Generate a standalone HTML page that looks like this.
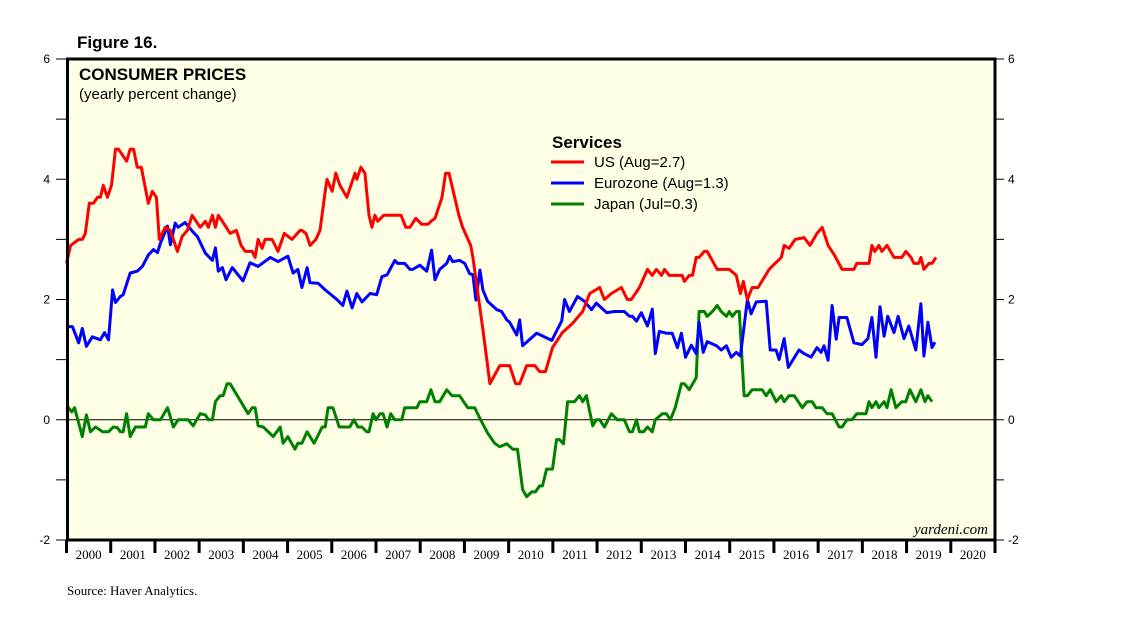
<!DOCTYPE html>
<html><head><meta charset="utf-8"><style>
body{margin:0;background:#fff;}
svg{display:block;}
</style></head><body>
<svg id="chart" width="1138" height="623" viewBox="0 0 1138 623" xmlns="http://www.w3.org/2000/svg">
<text x="77" y="48" font-family="Liberation Sans, sans-serif" font-weight="bold" font-size="17">Figure 16.</text>
<rect x="67.5" y="59" width="927.5" height="481" fill="#ffffe6"/>
<g id="grid"></g>
<g id="series"></g>
<rect x="67.5" y="59" width="927.5" height="481" fill="none" stroke="#000" stroke-width="3"/>
<g id="axes"></g>
<text x="79" y="80" font-family="Liberation Sans, sans-serif" font-weight="bold" font-size="17">CONSUMER PRICES</text>
<text x="79" y="99" font-family="Liberation Sans, sans-serif" font-size="15">(yearly percent change)</text>
<g>
<text x="552" y="148" font-family="Liberation Sans, sans-serif" font-weight="bold" font-size="17">Services</text>
<g><line x1="551" y1="162" x2="584" y2="162" stroke="#ff0000" stroke-width="3"/><text x="594" y="167" font-family="Liberation Sans, sans-serif" font-size="15">US (Aug=2.7)</text></g>
<g><line x1="551" y1="183" x2="584" y2="183" stroke="#0000ff" stroke-width="3"/><text x="594" y="188" font-family="Liberation Sans, sans-serif" font-size="15">Eurozone (Aug=1.3)</text></g>
<g><line x1="551" y1="204" x2="584" y2="204" stroke="#008000" stroke-width="3"/><text x="594" y="209" font-family="Liberation Sans, sans-serif" font-size="15">Japan (Jul=0.3)</text></g>
</g>
<text x="988" y="534" text-anchor="end" font-family="Liberation Serif, serif" font-style="italic" font-size="15">yardeni.com</text>
<text x="67" y="595" font-family="Liberation Serif, serif" font-size="13">Source: Haver Analytics.</text>
</svg>
<script>
const yTicks=[-2,-1,0,1,2,3,4,5,6];
const yLabels=["-2","","0","","2","","4","","6"];
const years=["2000","2001","2002","2003","2004","2005","2006","2007","2008","2009","2010","2011","2012","2013","2014","2015","2016","2017","2018","2019","2020"];
const usMonths=[0,1.1,3.3,4.3,5.1,6.2,7.3,8.4,9.2,10.0,11.1,12.2,13.3,14.1,16.3,17.3,18.2,19.2,20.3,22.2,23.3,24.4,25.2,26.8,28.2,30.1,31.4,32.8,34.1,36.3,37.7,38.5,39.6,40.4,41.2,42.3,44.4,46.1,47.4,48.5,50.4,51.2,52.0,53.1,53.9,55.8,57.4,59.1,61.2,63.4,63.9,65.0,66.1,67.7,68.8,70.2,70.7,72.1,73.1,74.2,76.1,78.3,78.8,79.9,81.0,82.1,82.9,83.7,84.5,86.1,90.8,92.1,93.2,94.8,96.4,98.1,98.9,100.0,101.9,102.9,103.8,106.5,107.5,109.7,110.3,113.0,114.9,117.6,120.3,121.9,123.0,124.9,127.1,128.4,130.0,131.9,134.6,137.3,140.1,142.0,144.7,146.0,147.9,150.6,152.2,153.3,154.4,155.5,157.7,159.0,160.1,161.5,162.3,163.6,167.1,167.7,169.0,169.9,170.9,171.7,173.1,173.9,176.6,179.9,181.8,182.9,183.7,184.8,186.1,187.7,190.7,192.3,194.0,194.8,196.1,197.8,200.2,201.8,203.7,205.1,206.7,208.3,210.5,213.7,214.5,217.8,218.6,219.4,220.5,221.3,222.7,224.6,226.7,227.8,229.2,230.0,231.3,231.9,232.7,234.1,234.9,236.0];
const usValues=[2.6,2.9,3.0,3.0,3.1,3.6,3.6,3.7,3.7,3.9,3.7,3.9,4.5,4.5,4.3,4.5,4.5,4.2,4.2,3.6,3.8,3.7,3.0,3.2,3.15,2.8,3.05,3.15,3.4,3.2,3.3,3.2,3.4,3.2,3.4,3.3,3.1,3.15,2.9,2.8,2.8,2.7,3.0,2.85,3.0,3.0,2.8,3.1,3.0,3.15,3.15,3.1,2.9,3.0,3.15,3.8,4.0,3.8,4.1,3.9,3.7,4.1,4.0,4.2,4.1,3.4,3.2,3.4,3.3,3.4,3.4,3.2,3.2,3.35,3.25,3.25,3.3,3.35,3.7,4.1,4.1,3.4,3.2,2.9,2.7,1.5,0.6,0.9,0.9,0.6,0.6,0.9,0.9,0.8,0.8,1.2,1.45,1.6,1.8,2.1,2.2,2.0,2.1,2.2,2.0,2.0,2.1,2.2,2.5,2.4,2.5,2.4,2.5,2.4,2.4,2.3,2.4,2.4,2.7,2.7,2.8,2.8,2.5,2.5,2.4,2.1,2.3,2.0,2.2,2.2,2.5,2.6,2.7,2.9,2.85,3.0,3.03,2.9,3.1,3.2,2.9,2.75,2.5,2.5,2.6,2.6,2.9,2.8,2.9,2.8,2.9,2.7,2.7,2.8,2.7,2.6,2.6,2.7,2.5,2.6,2.6,2.7];
const ezMonths=[0.3,1.6,3.3,4.3,5.4,7.0,9.2,10.3,11.4,12.5,13.3,14.6,15.4,17.3,19.2,20.6,22.2,23.6,24.7,25.5,27.4,28.2,29.5,30.3,32.2,34.4,35.5,37.7,39.6,40.4,41.2,42.3,43.3,45.0,47.9,49.8,52.0,55.3,57.4,60.1,61.5,62.8,63.9,65.3,66.1,68.3,70.2,73.4,75.0,76.1,77.5,78.8,80.2,82.4,84.2,85.6,87.0,89.1,89.9,91.8,93.2,94.0,95.9,97.8,99.1,100.0,101.3,103.2,104.0,104.8,106.7,108.1,109.4,110.3,111.1,112.2,113.0,114.3,116.8,118.1,119.5,120.3,122.2,123.0,123.8,127.6,131.7,133.3,134.4,135.2,136.5,138.7,140.6,142.5,143.8,146.6,148.7,151.4,152.8,153.6,154.7,156.0,157.7,159.0,159.8,160.9,162.8,164.4,165.8,166.9,168.0,169.6,170.9,171.7,172.8,173.9,176.4,177.7,179.1,180.4,181.8,182.9,184.8,185.8,187.2,189.9,191.0,192.6,193.4,194.8,195.9,198.8,200.2,202.1,203.7,204.8,205.6,206.7,207.8,208.9,209.7,211.8,213.7,215.9,217.5,218.6,219.7,220.8,221.9,222.9,224.6,225.7,227.3,228.6,230.5,231.9,232.7,233.8,234.9,235.7];
const ezValues=[1.55,1.55,1.28,1.52,1.22,1.38,1.33,1.45,1.33,2.16,1.95,2.05,2.08,2.44,2.47,2.55,2.74,2.83,2.78,2.94,3.22,2.91,3.27,3.2,3.28,3.12,3.05,2.77,2.65,2.86,2.47,2.53,2.33,2.53,2.31,2.61,2.55,2.7,2.63,2.72,2.44,2.5,2.2,2.53,2.28,2.27,2.16,2.0,1.9,2.14,1.86,2.1,1.96,2.1,2.08,2.38,2.41,2.65,2.6,2.6,2.5,2.5,2.57,2.47,2.82,2.33,2.5,2.6,2.72,2.63,2.65,2.6,2.43,2.41,1.99,2.49,2.16,1.97,1.83,1.8,1.66,1.62,1.41,1.66,1.23,1.44,1.32,1.51,1.64,2.0,1.8,2.05,1.97,1.83,1.94,1.78,1.8,1.8,1.72,1.72,1.64,1.78,1.56,1.84,1.1,1.47,1.44,1.44,1.2,1.44,1.04,1.24,1.1,1.62,1.12,1.3,1.23,1.16,1.23,1.04,1.12,1.06,2.0,1.76,1.96,1.97,1.16,1.16,1.0,1.35,0.87,1.16,1.1,1.04,1.2,1.12,1.23,0.99,1.9,1.34,1.7,1.7,1.28,1.25,1.35,1.7,1.04,1.88,1.39,1.72,1.45,1.72,1.35,1.56,1.16,1.93,1.06,1.62,1.2,1.29];
const jpMonths=[0.3,1.4,2.2,4.3,5.4,6.5,7.9,9.8,11.4,12.7,13.8,14.6,15.4,16.3,17.3,18.7,21.4,22.2,23.6,25.5,27.4,29.0,30.3,33.0,34.4,36.3,37.7,38.5,39.6,40.4,41.7,42.5,43.6,44.4,49.3,50.4,51.2,52.0,53.4,56.1,58.0,58.8,60.1,62.0,62.8,63.9,65.3,67.2,69.4,70.2,71.0,72.3,74.0,76.9,78.0,79.1,80.2,81.5,82.1,83.2,84.0,85.1,85.9,87.0,88.0,89.1,91.0,91.8,95.1,95.9,97.8,98.9,100.0,101.3,103.2,104.6,106.7,108.9,110.8,112.4,114.3,116.2,117.6,119.5,121.1,122.4,123.8,124.9,126.2,127.3,128.4,129.2,130.3,131.9,133.0,133.8,134.9,136.0,137.9,139.2,140.1,141.1,142.8,143.8,144.7,146.0,147.9,149.5,151.4,152.8,153.6,154.7,155.5,156.6,157.7,159.0,159.8,161.7,162.8,163.9,165.2,166.9,167.7,169.0,170.9,171.7,173.1,173.9,175.3,176.6,177.7,179.1,179.9,180.7,181.8,182.6,183.9,184.8,186.1,188.8,189.9,191.0,192.6,194.0,194.8,196.1,197.5,199.7,201.0,202.4,203.4,205.1,206.4,207.8,209.7,210.5,211.8,213.2,214.5,217.0,217.8,218.6,219.7,220.5,221.9,222.7,223.8,225.1,226.7,227.8,228.9,230.5,231.9,233.0,233.8,234.9];
const jpValues=[0.22,0.13,0.2,-0.28,0.08,-0.2,-0.12,-0.2,-0.2,-0.12,-0.13,-0.2,-0.2,0.1,-0.28,-0.12,-0.12,0.1,0,0,0.2,-0.12,0,0,-0.1,0.1,0.08,0,0,0.3,0.4,0.4,0.6,0.6,0.1,0.2,0.2,-0.1,-0.12,-0.28,-0.12,-0.39,-0.28,-0.49,-0.39,-0.39,-0.2,-0.39,-0.12,-0.12,0.2,0.2,-0.12,-0.12,0,-0.12,-0.12,-0.2,-0.2,0.1,0,0.1,0.1,-0.12,0.1,0,0,0.2,0.2,0.3,0.3,0.5,0.3,0.3,0.5,0.4,0.4,0.2,0.2,0,-0.22,-0.39,-0.45,-0.4,-0.49,-0.49,-1.16,-1.28,-1.2,-1.2,-1.1,-1.1,-0.82,-0.82,-0.33,-0.33,-0.4,0.3,0.3,0.4,0.3,0.4,-0.1,0,0,-0.12,0.1,0,0,-0.2,-0.2,0,-0.2,-0.2,-0.12,-0.2,0,0.1,0.1,0,0.2,0.6,0.6,0.5,0.7,1.8,1.8,1.72,1.8,1.9,1.8,1.72,1.8,1.72,1.8,1.8,0.4,0.4,0.5,0.5,0.4,0.5,0.3,0.4,0.3,0.4,0.4,0.2,0.3,0.3,0.2,0.2,0.1,0.1,-0.12,-0.12,0,0,0.1,0.1,0.3,0.2,0.3,0.2,0.3,0.2,0.5,0.2,0.3,0.3,0.5,0.3,0.5,0.3,0.4,0.3];

const NS="http://www.w3.org/2000/svg";
const X0=66.5, X1=995, YT=59, YB=540, YMIN=-2, YMAX=6;
function xScale(m){return X0+(m/252)*(X1-X0);}
function yScale(v){return YB-(v-YMIN)/(YMAX-YMIN)*(YB-YT);}
function mk(tag,attrs,parent){const e=document.createElementNS(NS,tag);for(const k in attrs)e.setAttribute(k,attrs[k]);parent.appendChild(e);return e;}
const grid=document.getElementById('grid'), axes=document.getElementById('axes'), series=document.getElementById('series');
const zl=mk('line',{x1:X0,x2:X1,y1:yScale(0),y2:yScale(0),stroke:'#000','stroke-width':1},grid);


yTicks.forEach((t,i)=>{
  const y=yScale(t);
  const a=mk('line',{x1:56,x2:X0,y1:y,y2:y,stroke:'#000','stroke-width':1},axes);
  
  
  const b=mk('line',{x1:X1,x2:1004,y1:y,y2:y,stroke:'#000','stroke-width':1},axes);
  
  
  if(yLabels[i]!==""){
    const l=mk('text',{x:50,y:y+4,'text-anchor':'end','font-family':'Liberation Sans, sans-serif','font-size':12},axes);l.textContent=yLabels[i];
    
    
    const r=mk('text',{x:1008,y:y+4,'font-family':'Liberation Sans, sans-serif','font-size':12},axes);r.textContent=yLabels[i];
    
    
  }
});
years.forEach((yr,i)=>{
  const x=xScale(i*12);
  const t=mk('line',{x1:x,x2:x,y1:YB,y2:553,stroke:'#000','stroke-width':3},axes);
  
  
  const l=mk('text',{x:xScale(i*12+6),y:559,'text-anchor':'middle','font-family':'Liberation Serif, serif','font-size':13},axes);l.textContent=yr;
  
  
});
const endT=mk('line',{x1:X1,x2:X1,y1:YB,y2:553,stroke:'#000','stroke-width':3},axes);


function drawLine(ms,vs,color,name){
  const n=Math.min(ms.length,vs.length);let d="";
  for(let i=0;i<n;i++)d+=(i?"L":"M")+xScale(ms[i]).toFixed(1)+","+yScale(vs[i]).toFixed(1);
  const p=mk('path',{d:d,fill:'none',stroke:color,'stroke-width':3,'stroke-linejoin':'round'},series);
  
  
}
drawLine(jpMonths,jpValues,'#008000','japan-line');
drawLine(ezMonths,ezValues,'#0000ff','eurozone-line');
drawLine(usMonths,usValues,'#ff0000','us-line');
</script>
</body></html>
